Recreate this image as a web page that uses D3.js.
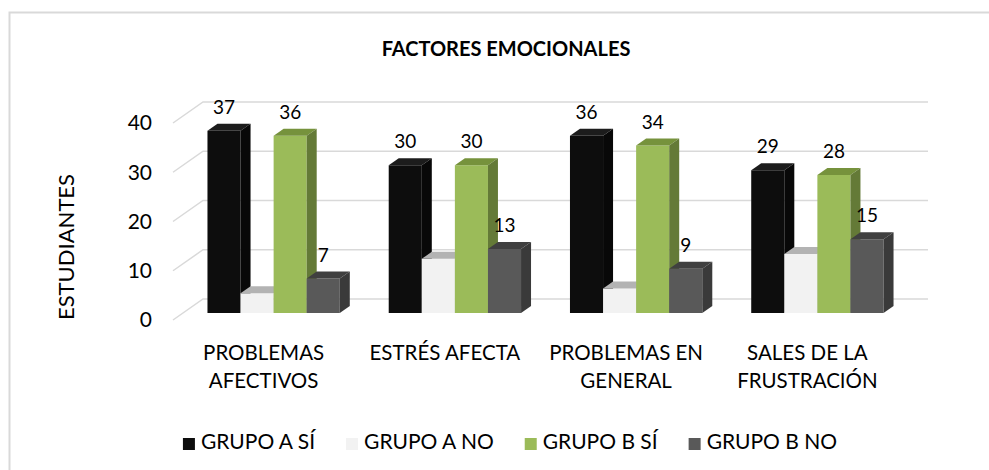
<!DOCTYPE html>
<html>
<head>
<meta charset="utf-8">
<script src="https://cdn.jsdelivr.net/npm/d3@7"></script>
<style>
  body { margin: 0; background: #fff; }
  svg { display: block; font-family: Lato, "Open Sans", sans-serif; }
</style>
</head>
<body>
<div id="chart"></div>
<script>
// chart data
const categories = [
  ["PROBLEMAS", "AFECTIVOS"],
  ["ESTRÉS AFECTA"],
  ["PROBLEMAS EN", "GENERAL"],
  ["SALES DE LA", "FRUSTRACIÓN"]
];
const seriesNames = ["GRUPO A SÍ", "GRUPO A NO", "GRUPO B SÍ", "GRUPO B NO"];
const grupoASi = [37, 30, 36, 29];
const grupoANo = [4, 11, 5, 12];
const grupoBSi = [36, 30, 34, 28];
const grupoBNo = [7, 13, 9, 15];
const yTicks = [0, 10, 20, 30, 40];

// colours for front / top / side of each bar
const faces = [
  { front: "#0d0d0d", top: "#1c1c1c", side: "#080808", label: true },
  { front: "#f2f2f2", top: "#b3b3b3", side: "#d0d0d0", label: false },
  { front: "#9bbb59", top: "#76923c", side: "#647a37", label: true },
  { front: "#595959", top: "#404040", side: "#3a3a3a", label: true }
];
const values = [grupoASi, grupoANo, grupoBSi, grupoBNo];

const width = 989,
      height = 470;

// depth of the whole floor (front -> back wall)
const dx = 30, dy = -21;

const svg = d3.select("#chart").append("svg")
    .attr("width", width)
    .attr("height", height);

// chart frame (only top/left edges are inside the picture)
svg.append("rect")
    .attr("x", 9.5).attr("y", 12.5)
    .attr("width", 1100).attr("height", 600)
    .attr("fill", "#fff")
    .attr("stroke", "#d9d9d9")
    .attr("stroke-width", 2);

const x0 = d3.scaleBand()
    .domain(d3.range(categories.length))
    .range([173, 898])
    .paddingInner(0.27)
    .paddingOuter(0.135);

const x1 = d3.scaleBand()
    .domain(d3.range(seriesNames.length))
    .range([0, x0.bandwidth()]);

const y = d3.scaleLinear()
    .domain([0, 40])
    .range([320, 123]);

// gridlines: diagonal on the floor edge, then flat along the back wall
svg.append("g")
  .selectAll("path")
    .data(yTicks)
  .enter().append("path")
    .attr("d", d => "M173," + y(d) + "L" + (173 + dx) + "," + (y(d) + dy) + "L" + (898 + dx) + "," + (y(d) + dy))
    .attr("fill", "none")
    .attr("stroke", "#d9d9d9")
    .attr("stroke-width", 1.5);

// y tick labels
svg.append("g")
  .selectAll("text")
    .data(yTicks)
  .enter().append("text")
    .attr("x", 152)
    .attr("y", d => y(d))
    .attr("dy", "0.35em")
    .attr("text-anchor", "end")
    .attr("font-size", 21)
    .attr("fill", "#000")
    .text(d => d);

// y axis title
svg.append("text")
    .attr("transform", "translate(74,247)rotate(-90)")
    .attr("text-anchor", "middle")
    .attr("font-size", 22)
    .attr("fill", "#000")
    .text("ESTUDIANTES");

// bars sit in the middle third of the depth
const bx = dx / 3, by = dy / 3;

let bars = [];
categories.forEach(function(c, i) {
  values.forEach(function(s, j) {
    bars.push({ cat: i, ser: j, value: s[i] });
  });
});

const barG = svg.append("g");
bars.forEach(function(b) {
  let f = faces[b.ser];
  let xl = x0(b.cat) + x1(b.ser) + bx;
  let xr = xl + x1.bandwidth();
  let yt = y(b.value) + by;
  let yb = y(0) + by;

  // front face
  barG.append("path")
      .attr("d", "M" + xl + "," + yt + "H" + xr + "V" + yb + "H" + xl + "Z")
      .attr("fill", f.front);
  // top face
  barG.append("path")
      .attr("d", "M" + xl + "," + yt + "L" + (xl + bx) + "," + (yt + by) + "L" + (xr + bx) + "," + (yt + by) + "L" + xr + "," + yt + "Z")
      .attr("fill", f.top);
  // right side face
  barG.append("path")
      .attr("d", "M" + xr + "," + yt + "L" + (xr + bx) + "," + (yt + by) + "L" + (xr + bx) + "," + (yb + by) + "L" + xr + "," + yb + "Z")
      .attr("fill", f.side);
});

// value labels
svg.append("g")
  .selectAll("text")
    .data(bars.filter(b => faces[b.ser].label))
  .enter().append("text")
    .attr("x", b => x0(b.cat) + x1(b.ser) + bx + x1.bandwidth() / 2)
    .attr("y", b => y(b.value) + 2 * by - 10)
    .attr("text-anchor", "middle")
    .attr("font-size", 19)
    .attr("fill", "#000")
    .text(b => b.value);

// category labels (one or two lines)
const catG = svg.append("g");
categories.forEach(function(lines, i) {
  let t = catG.append("text")
      .attr("text-anchor", "middle")
      .attr("font-size", 20.5)
      .attr("fill", "#000");
  lines.forEach(function(line, k) {
    t.append("tspan")
        .attr("x", x0(i) + x0.bandwidth() / 2)
        .attr("y", 360 + k * 28)
        .text(line);
  });
});

// title
svg.append("text")
    .attr("x", 506)
    .attr("y", 56)
    .attr("text-anchor", "middle")
    .attr("font-size", 20)
    .attr("font-weight", "bold")
    .attr("fill", "#000")
    .text("FACTORES EMOCIONALES");

// legend, laid out from measured text widths and centred
const legend = svg.append("g");
const box = 12, gap = 6, itemGap = 31;
let items = seriesNames.map(function(name, j) {
  let g = legend.append("g");
  g.append("rect")
      .attr("width", box).attr("height", box)
      .attr("y", -box + 1)
      .attr("fill", faces[j].front);
  let t = g.append("text")
      .attr("x", box + gap)
      .attr("font-size", 21)
      .attr("fill", "#000")
      .text(name);
  return { g: g, w: box + gap + t.node().getComputedTextLength() };
});
let total = d3.sum(items, d => d.w) + itemGap * (items.length - 1);
let lx = 510 - total / 2;
items.forEach(function(it) {
  it.g.attr("transform", "translate(" + lx + ",449)");
  lx += it.w + itemGap;
});
</script>
</body>
</html>
